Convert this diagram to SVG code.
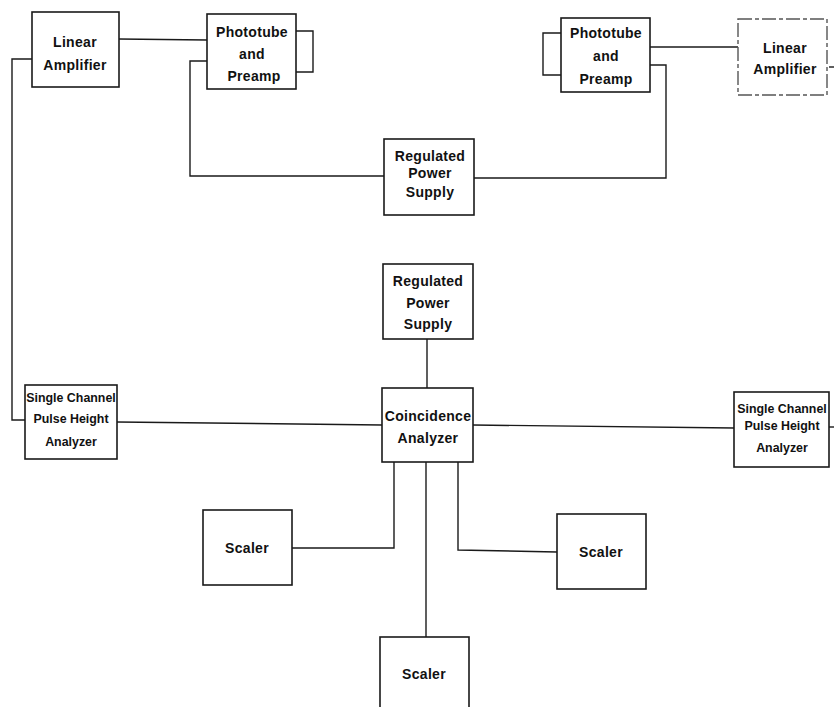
<svg xmlns="http://www.w3.org/2000/svg" width="834" height="707" viewBox="0 0 834 707">
  <style>
    .box { fill: #fff; stroke: #1a1a1a; stroke-width: 1.6; }
    .faint { stroke: #555; stroke-dasharray: 14 3 4 3; stroke-width: 1.4; }
    .wire { fill: none; stroke: #1a1a1a; stroke-width: 1.4; }
    text { font-family: "Liberation Sans", Arial, sans-serif; font-weight: bold; font-size: 14px; fill: #111; text-anchor: middle; letter-spacing: 0.3px; }
    .sm { font-size: 12.4px; letter-spacing: 0; }
  </style>
  <rect width="834" height="707" fill="#fff"/>

  <!-- connectors -->
  <g id="connectors">
    <path class="wire" d="M119 39 L207 40"/>
    <path class="wire" d="M296 31 H313 V72 H296"/>
    <path class="wire" d="M207 61 H190 V176 H384"/>
    <path class="wire" d="M474 178 H666 V65 H650"/>
    <path class="wire" d="M561 33 H543 V75 H561"/>
    <path class="wire" d="M650 47 H738"/>
    <path class="wire" d="M829 67 H834"/>
    <path class="wire" d="M32 59 H12 V420 H25"/>
    <path class="wire" d="M117 422 L382 425"/>
    <path class="wire" d="M427 339 V388"/>
    <path class="wire" d="M473 425 L734 428"/>
    <path class="wire" d="M829 427 H834"/>
    <path class="wire" d="M394 462 V548 H292"/>
    <path class="wire" d="M426 462 V637"/>
    <path class="wire" d="M458 462 V550 L557 552"/>
  </g>

  <g id="linear-amplifier-left">
    <rect class="box" x="32" y="12" width="87" height="75"/>
    <text x="75" y="47">Linear</text>
    <text x="75" y="70">Amplifier</text>
  </g>

  <g id="phototube-left">
    <rect class="box" x="207" y="14" width="89" height="75"/>
    <text x="252" y="37">Phototube</text>
    <text x="252" y="59">and</text>
    <text x="254" y="81">Preamp</text>
  </g>

  <g id="phototube-right">
    <rect class="box" x="561" y="18" width="89" height="74"/>
    <text x="606" y="38">Phototube</text>
    <text x="606" y="61">and</text>
    <text x="606" y="84">Preamp</text>
  </g>

  <g id="linear-amplifier-right">
    <rect class="box faint" x="738" y="19" width="89" height="76"/>
    <text x="785" y="53">Linear</text>
    <text x="785" y="74">Amplifier</text>
  </g>

  <g id="power-supply-top">
    <rect class="box" x="384" y="139" width="90" height="76"/>
    <text x="430" y="161">Regulated</text>
    <text x="430" y="178">Power</text>
    <text x="430" y="197">Supply</text>
  </g>

  <g id="power-supply-center">
    <rect class="box" x="383" y="264" width="90" height="75"/>
    <text x="428" y="286">Regulated</text>
    <text x="428" y="308">Power</text>
    <text x="428" y="329">Supply</text>
  </g>

  <g id="coincidence-analyzer">
    <rect class="box" x="382" y="388" width="91" height="74"/>
    <text x="428" y="421">Coincidence</text>
    <text x="428" y="443">Analyzer</text>
  </g>

  <g id="pulse-height-left">
    <rect class="box" x="25" y="385" width="92" height="74"/>
    <text class="sm" x="71" y="402">Single Channel</text>
    <text class="sm" x="71" y="423">Pulse Height</text>
    <text class="sm" x="71" y="446">Analyzer</text>
  </g>

  <g id="pulse-height-right">
    <rect class="box" x="734" y="392" width="95" height="75"/>
    <text class="sm" x="782" y="413">Single Channel</text>
    <text class="sm" x="782" y="430">Pulse Height</text>
    <text class="sm" x="782" y="452">Analyzer</text>
  </g>

  <g id="scaler-left">
    <rect class="box" x="203" y="510" width="89" height="75"/>
    <text x="247" y="553">Scaler</text>
  </g>

  <g id="scaler-right">
    <rect class="box" x="557" y="514" width="89" height="75"/>
    <text x="601" y="557">Scaler</text>
  </g>

  <g id="scaler-bottom">
    <rect class="box" x="380" y="637" width="89" height="80"/>
    <text x="424" y="679">Scaler</text>
  </g>
</svg>
